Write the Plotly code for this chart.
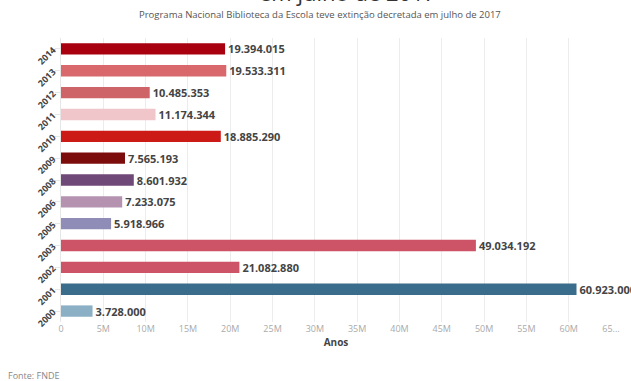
import plotly.graph_objects as go

anos = ["2014", "2013", "2012", "2011", "2010", "2009", "2008", "2006", "2005", "2003", "2002", "2001", "2000"]
valores = [19394015, 19533311, 10485353, 11174344, 18885290, 7565193, 8601932, 7233075, 5918966, 49034192, 21082880, 60923000, 3728000]
rotulos = ["19.394.015", "19.533.311", "10.485.353", "11.174.344", "18.885.290", "7.565.193", "8.601.932",
           "7.233.075", "5.918.966", "49.034.192", "21.082.880", "60.923.000", "3.728.000"]
cores = ["#a8000e", "#d9686d", "#cf6468", "#f1c6ca", "#cc1a17", "#7c0c0c", "#6f4978", "#b593b0",
         "#8f8cb8", "#cc5466", "#cc5466", "#3a6d8b", "#8bb0c6"]
tick_vals = [0, 5e6, 10e6, 15e6, 20e6, 25e6, 30e6, 35e6, 40e6, 45e6, 50e6, 55e6, 60e6, 65e6]
tick_text = ["0", "5M", "10M", "15M", "20M", "25M", "30M", "35M", "40M", "45M", "50M", "55M", "60M", "65..."]

fig = go.Figure(go.Bar(
    x=valores, y=anos, orientation="h",
    marker=dict(color=cores, line=dict(width=0)),
    text=rotulos, textposition="outside", cliponaxis=False, constraintext="none",
    textfont=dict(family="Open Sans", size=11, color="#444444", weight="bold"),
))

fig.update_layout(
    width=631, height=381,
    margin=dict(l=61, r=11, t=38, b=59),
    paper_bgcolor="white", plot_bgcolor="white",
    bargap=0.48,
    showlegend=False,
    font=dict(family="Open Sans", color="#555555"),
    xaxis=dict(range=[0, 65e6], tickvals=tick_vals, ticktext=tick_text,
               showgrid=True, gridcolor="#ececec", gridwidth=1, zeroline=False,
               tickfont=dict(size=9, color="#aaaaaa"), ticks="",
               title=dict(text="<b>Anos</b>", font=dict(size=10, color="#444444"), standoff=4)),
    yaxis=dict(categoryorder="array", categoryarray=anos[::-1],
               tickangle=-45, tickfont=dict(size=9, color="#444444", weight="bold"),
               showline=True, linecolor="#e6e6e6", ticks="outside", tickcolor="#e6e6e6", ticklen=5,
               showgrid=False),
    annotations=[
        dict(text="em julho de 2017", x=0.52, y=(322 - 9) / 284, xref="paper", yref="paper",
             xanchor="center", yanchor="bottom", showarrow=False,
             font=dict(size=22, color="#333333")),
        dict(text="Programa Nacional Biblioteca da Escola teve extinção decretada em julho de 2017",
             x=0.47, y=(322 - 6) / 284, xref="paper", yref="paper", xanchor="center", yanchor="top",
             showarrow=False, font=dict(size=9.5, color="#555555")),
        dict(text="Fonte: FNDE", x=(5 - 61) / (631 - 61 - 11), y=(322 - 375) / 284,
             xref="paper", yref="paper", showarrow=False,
             xanchor="left", yanchor="middle", font=dict(size=9, color="#888888")),
    ],
)

fig.write_html("out.html")
